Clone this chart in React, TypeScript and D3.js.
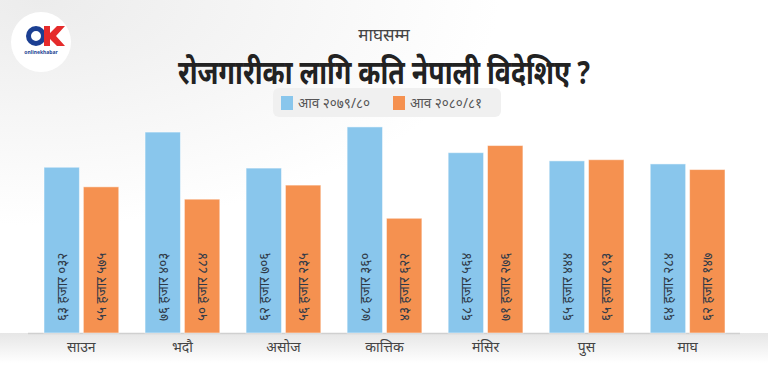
import { useEffect, useRef } from 'react';
import * as d3 from 'd3';

const months = ['साउन', 'भदौ', 'असोज', 'कात्तिक', 'मंसिर', 'पुस', 'माघ'];
const fy7980 = [63032, 76403, 62706, 78360, 68564, 65444, 64284];
const fy8081 = [55575, 50884, 56235, 43622, 71276, 65893, 62147];
const seriesNames = ['आव २०७९/८०', 'आव २०८०/८१'];
const colors = ['#89c6ec', '#f59150'];

const devDigits = '०१२३४५६७८९';
const toDev = (s: string) => s.replace(/[0-9]/g, d => devDigits[+d]);
const fmt = (v: number) => {
  const th = Math.floor(v / 1000);
  const rest = String(v % 1000).padStart(3, '0');
  return toDev(`${th} हजार ${rest}`);
};

export default function App() {
  const svgRef = useRef<SVGSVGElement>(null);

  useEffect(() => {
    const width = 768;
    const height = 375;
    const svg = d3.select(svgRef.current)
      .attr('width', width)
      .attr('height', height);
    svg.selectAll('*').remove();

    const font = "'Noto Sans', sans-serif";

    // fond
    const defs = svg.append('defs');
    const bg = defs.append('radialGradient').attr('id', 'bg').attr('cx', '0.05').attr('cy', '0').attr('r', '0.6');
    bg.append('stop').attr('offset', '0').attr('stop-color', '#ececec');
    bg.append('stop').attr('offset', '1').attr('stop-color', '#ffffff');
    const band = defs.append('linearGradient').attr('id', 'band').attr('x1', 0).attr('x2', 0).attr('y1', 0).attr('y2', 1);
    band.append('stop').attr('offset', '0').attr('stop-color', '#e6e6e6');
    band.append('stop').attr('offset', '1').attr('stop-color', '#ffffff');
    svg.append('rect').attr('width', width).attr('height', height).attr('fill', 'url(#bg)');

    // logo
    const logo = svg.append('g').attr('transform', 'translate(41,42)');
    logo.append('circle').attr('r', 30).attr('fill', '#ffffff');
    logo.append('circle').attr('cx', -5).attr('cy', -6).attr('r', 7.5).attr('fill', 'none').attr('stroke', '#1b3f92').attr('stroke-width', 5);
    logo.append('path').attr('d', 'M3,-16 L9,-16 L9,-9 L16,-16 L24,-16 L15,-6 L24,4 L16,4 L9,-3 L9,4 L3,4 Z').attr('fill', '#e52b2b');
    logo.append('text').attr('x', 0).attr('y', 12).attr('text-anchor', 'middle')
      .attr('font-family', font).attr('font-size', 5).attr('font-weight', 700).attr('fill', '#1b3f92')
      .text('onlinekhabar');

    // titres
    svg.append('text').attr('x', 384).attr('y', 41).attr('text-anchor', 'middle')
      .attr('font-family', font).attr('font-size', 17).attr('fill', '#444')
      .text('माघसम्म');
    svg.append('text').attr('x', 384).attr('y', 84).attr('text-anchor', 'middle')
      .attr('font-family', font).attr('font-size', 33).attr('font-weight', 700).attr('fill', '#222')
      .attr('textLength', 412).attr('lengthAdjust', 'spacingAndGlyphs')
      .text('रोजगारीका लागि कति नेपाली विदेशिए ?');

    // légende
    svg.append('rect').attr('x', 273).attr('y', 88).attr('width', 228).attr('height', 29).attr('rx', 6)
      .attr('fill', '#f0f0f0');
    const legendX = [281, 393];
    seriesNames.forEach((name, i) => {
      svg.append('rect').attr('x', legendX[i]).attr('y', 96).attr('width', 12).attr('height', 14).attr('fill', colors[i]);
      svg.append('text').attr('x', legendX[i] + 17).attr('y', 108)
        .attr('font-family', font).attr('font-size', 13.5).attr('fill', '#555')
        .text(name);
    });

    // échelles
    const baseY = 333;
    const x0 = d3.scaleBand().domain(months).range([44, 725]).paddingInner(0.26).paddingOuter(0);
    const x1 = d3.scaleBand().domain(['0', '1']).range([0, x0.bandwidth()]).paddingInner(0.1);
    const y = d3.scaleLinear().domain([0, 80000]).range([baseY, baseY - 80000 * 0.00263]);

    // bande du bas
    svg.append('rect').attr('x', 0).attr('y', baseY).attr('width', width).attr('height', 30).attr('fill', 'url(#band)');
    svg.append('line').attr('x1', 28).attr('x2', 740).attr('y1', baseY + 0.5).attr('y2', baseY + 0.5)
      .attr('stroke', '#d0d0d0').attr('stroke-width', 1.5);

    const series = [fy7980, fy8081];
    months.forEach((m, mi) => {
      const g = svg.append('g').attr('transform', `translate(${x0(m)},0)`);
      series.forEach((vals, si) => {
        const bx = x1(String(si))!;
        const bw = x1.bandwidth();
        const v = vals[mi];
        g.append('rect').attr('x', bx).attr('y', y(v)).attr('width', bw).attr('height', baseY - y(v))
          .attr('fill', colors[si]).attr('stroke', 'rgba(255,255,255,0.5)').attr('stroke-width', 1);
        g.append('text')
          .attr('transform', `translate(${bx + bw / 2 + 5},${baseY - 12}) rotate(-90)`)
          .attr('font-family', font).attr('font-size', 13.5).attr('fill', '#2f3a48')
          .text(fmt(v));
      });
      svg.append('text').attr('x', x0(m)! + x0.bandwidth() / 2).attr('y', 352).attr('text-anchor', 'middle')
        .attr('font-family', font).attr('font-size', 14).attr('fill', '#444')
        .text(m);
    });
  }, []);

  return (
    <svg ref={svgRef} style={{ position: 'absolute', left: 0, top: 0 }}></svg>
  );
}
